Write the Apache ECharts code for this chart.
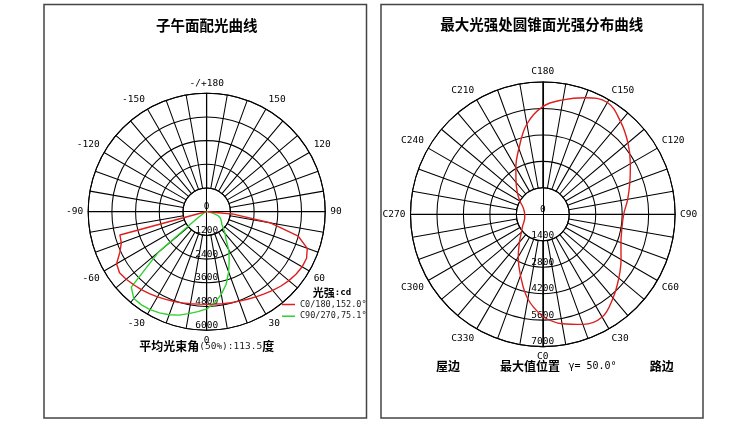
<!DOCTYPE html>
<html>
<head>
<meta charset="utf-8">
<script src="https://cdn.jsdelivr.net/npm/echarts@6/dist/echarts.min.js"></script>
<style>
html,body{margin:0;padding:0;background:#fff;}
#c{width:750px;height:424px;}
</style>
</head>
<body>
<div id="c"></div>
<script>
// ---- Left chart: meridian plane curves (gamma angle, cd) ----
const gammaAngles = [-90,-85,-80,-75,-70,-65,-60,-55,-50,-45,-40,-35,-30,-25,-20,-15,-10,-5,0,5,10,15,20,25,30,35,40,45,50,55,60,65,70,75,80,85,90];
const c0_180 = [0,40,150,4550,4600,4850,5270,5390,5320,5230,5150,5060,4980,4900,4840,4780,4730,4700,4690,4700,4730,4770,4820,4890,4980,5080,5200,5320,5430,5520,5580,5580,5420,4800,3300,1300,50];
const c90_270 = [0,20,40,70,100,150,250,600,3200,5400,5740,5760,5730,5650,5550,5420,5240,5080,4920,4620,4250,3800,3250,2700,2230,1700,1450,1200,1000,920,870,760,630,400,200,70,0];
const seriesNames = ['C0/180,152.0°','C90/270,75.1°'];
const leftRadiusTicks = [0,1200,2400,3600,4800,6000];

// ---- Right chart: cone at max intensity (C angle, cd) ----
const cAngles = [0,10,20,30,40,50,60,70,80,90,100,110,120,130,140,150,160,170,180,190,200,210,220,230,240,250,260,270,280,290,300,310,320,330,340,350,360];
const coneCd = [5420,5880,6200,6280,5780,5250,4780,4400,4250,4280,4560,4900,5350,5880,6400,6830,6560,6150,5700,4850,3700,2850,2200,1750,1400,1120,1000,960,970,1050,1230,1480,1920,2600,3450,4550,5420];
const rightRadiusTicks = [0,1400,2800,4200,5600,7000];

const mono = '"DejaVu Sans Mono", monospace';
const cjk = '"Noto Sans CJK SC", sans-serif';

const L = {cx:206.7, cy:211.7, R:118.5};
const Rt = {cx:542.8, cy:214.3, R:132.3};
const lineCol = '#000';
const lw = 1.05;

function gridPolarAxes(idx, ticks, fmt){
  const step = ticks[1], maxV = ticks[ticks.length-1];
  return {
    angle: {
      polarIndex: idx, type:'value', min:0, max:360, interval:10, startAngle:270, clockwise:false,
      axisLine:{show:true, lineStyle:{color:lineCol, width:lw}},
      axisTick:{show:false},
      splitLine:{show:true, lineStyle:{color:lineCol, width:lw}},
      axisLabel:{show:true, margin:5, color:'#000', fontFamily:mono, fontSize:9.5, formatter: fmt}
    },
    radius: {
      polarIndex: idx, type:'value', min:step, max:maxV, interval:step,
      axisLine:{show:false}, axisTick:{show:false}, axisLabel:{show:false},
      splitLine:{show:true, lineStyle:{color:lineCol, width:lw}}
    }
  };
}
function dataPolarAxes(idx, ticks){
  const step = ticks[1], maxV = ticks[ticks.length-1];
  return {
    angle: {
      polarIndex: idx, type:'value', min:0, max:360, startAngle:270, clockwise:false,
      axisLine:{show:false}, axisTick:{show:false}, axisLabel:{show:false}, splitLine:{show:false}
    },
    radius: {
      polarIndex: idx, type:'value', min:0, max:maxV, interval:step,
      axisLine:{show:false}, axisTick:{show:false}, splitLine:{show:false},
      axisLabel:{show:true, margin:0, align:'center', verticalAlign:'bottom', color:'#000', fontFamily:mono, fontSize:9.5,
        showMinLabel:true, showMaxLabel:true, formatter: v => String(v)}
    }
  };
}

const lg = gridPolarAxes(0, leftRadiusTicks, v => {
  if (v % 30 !== 0 || v === 360) return '';
  if (v === 180) return '-/+180';
  return v > 180 ? String(v - 360) : String(v);
});
const ld = dataPolarAxes(1, leftRadiusTicks);
const rg = gridPolarAxes(2, rightRadiusTicks, v => (v % 30 !== 0 || v === 360) ? '' : 'C' + v);
const rd = dataPolarAxes(3, rightRadiusTicks);

function crossAxes(gi){
  return {gridIndex:gi, type:'value', min:-1, max:1,
    axisLine:{show:true, onZero:true, lineStyle:{color:lineCol, width:lw}},
    axisTick:{show:false}, axisLabel:{show:false}, splitLine:{show:false}};
}

const toPolar = (angles, vals) => vals.map((v,i) => [v, (angles[i] + 360) % 360]);

const txt = (x, y, text, font, extra) => ({
  type:'text', x:x, y:y, silent:true,
  style: Object.assign({text:text, font:font, fill:'#000', align:'center', verticalAlign:'middle'}, extra||{})
});

const option = {
  animation:false,
  backgroundColor:'#fff',
  graphic:[
    {type:'rect', shape:{x:44, y:4.5, width:322.5, height:413.5}, style:{fill:'none', stroke:'#444', lineWidth:1.5}, silent:true},
    {type:'rect', shape:{x:381, y:4.5, width:322, height:413.5}, style:{fill:'none', stroke:'#444', lineWidth:1.5}, silent:true},
    txt(206.7, 25, '子午面配光曲线', 'bold 14.5px ' + cjk),
    txt(541.7, 24, '最大光强处圆锥面光强分布曲线', 'bold 14.5px ' + cjk),
    {type:'text', x:206.7, y:346.7, silent:true, style:{
      text:'{b|平均光束角}{m|(50%):113.5}{b|度}', align:'center', verticalAlign:'middle', fill:'#000',
      rich:{b:{fontFamily:cjk, fontWeight:'bold', fontSize:12, fill:'#000'}, m:{fontFamily:mono, fontSize:9.5, fill:'#222'}}
    }},
    {type:'text', x:332, y:293, silent:true, style:{
      text:'{b|光强}{m|:cd}', align:'center', verticalAlign:'middle', fill:'#000',
      rich:{b:{fontFamily:cjk, fontWeight:'bold', fontSize:11, fill:'#000'}, m:{fontFamily:mono, fontSize:9, fontWeight:'bold', fill:'#000'}}
    }},
    txt(448, 366, '屋边', 'bold 12px ' + cjk),
    txt(530, 366, '最大值位置', 'bold 12px ' + cjk),
    txt(592.5, 366, 'γ= 50.0°', '10px ' + mono),
    txt(661.7, 366, '路边', 'bold 12px ' + cjk)
  ],
  legend:{
    data:seriesNames, orient:'vertical', left:282, top:299, padding:0,
    icon:'rect', itemWidth:13, itemHeight:1.5, itemGap:0.7,
    textStyle:{fontFamily:mono, fontSize:8.5, color:'#222', lineHeight:11}
  },
  polar:[
    {center:[L.cx, L.cy], radius:[L.R/5, L.R]},
    {center:[L.cx, L.cy], radius:[0, L.R]},
    {center:[Rt.cx, Rt.cy], radius:[Rt.R/5, Rt.R]},
    {center:[Rt.cx, Rt.cy], radius:[0, Rt.R]}
  ],
  angleAxis:[lg.angle, ld.angle, rg.angle, rd.angle],
  radiusAxis:[lg.radius, ld.radius, rg.radius, rd.radius],
  grid:[
    {left:L.cx-L.R, top:L.cy-L.R, width:2*L.R, height:2*L.R, show:false},
    {left:Rt.cx-Rt.R, top:Rt.cy-Rt.R, width:2*Rt.R, height:2*Rt.R, show:false}
  ],
  xAxis:[crossAxes(0), crossAxes(1)],
  yAxis:[crossAxes(0), crossAxes(1)],
  series:[
    {name:seriesNames[0], type:'line', coordinateSystem:'polar', polarIndex:1, data:toPolar(gammaAngles, c0_180),
     symbol:'none', showSymbol:false, clip:false, smooth:false, color:'#dd1f1f', lineStyle:{color:'#dd1f1f', width:1.4}, z:5},
    {name:seriesNames[1], type:'line', coordinateSystem:'polar', polarIndex:1, data:toPolar(gammaAngles, c90_270),
     symbol:'none', showSymbol:false, clip:false, smooth:false, color:'#2fd12f', lineStyle:{color:'#2fd12f', width:1.4}, z:4},
    {name:'γ=50°', type:'line', coordinateSystem:'polar', polarIndex:3, data:toPolar(cAngles, coneCd),
     symbol:'none', showSymbol:false, clip:false, smooth:0.4, color:'#dd1f1f', lineStyle:{color:'#dd1f1f', width:1.4}, z:5}
  ]
};

const chart = echarts.init(document.getElementById('c'), null, {renderer:'canvas'});
chart.setOption(option);
</script>
</body>
</html>
